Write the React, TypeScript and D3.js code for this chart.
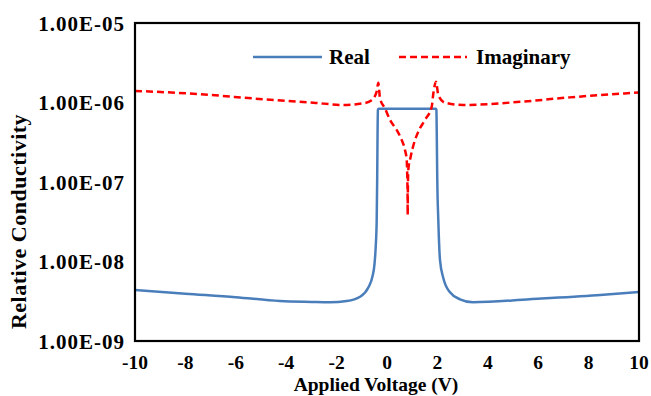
import React from 'react';
import * as d3 from 'd3';

// Real part: applied voltage (V) and relative conductivity
const realVoltage = [-10, -8, -6, -4.25, -3, -2.26, -1.6, -1.07, -0.742, -0.57, -0.5, -0.448, -0.409, -0.39, -0.375, -0.36, -0.33, 0.8, 1.94, 1.96, 1.975, 1.995, 2.036, 2.103, 2.234, 2.5, 2.9, 3.41, 5.67, 8.33, 10];
const realValue = [4.39e-9, 3.94e-9, 3.56e-9, 3.18e-9, 3.1e-9, 3.07e-9, 3.18e-9, 3.6e-9, 4.7e-9, 6.6e-9, 9.0e-9, 1.53e-8, 3.33e-8, 1.07e-7, 3.98e-7, 8.1e-7, 8.35e-7, 8.35e-7, 8.35e-7, 8.1e-7, 3.98e-7, 1.07e-7, 3.33e-8, 1.04e-8, 6.2e-9, 4.1e-9, 3.35e-9, 3.07e-9, 3.35e-9, 3.76e-9, 4.13e-9];

// Imaginary part
const imagVoltage = [-10, -7.55, -4.91, -2.92, -1.73, -0.94, -0.61, -0.41, -0.345, -0.278, -0.08, 0.119, 0.385, 0.583, 0.714, 0.782, 0.815, 0.821, 0.827, 0.845, 0.94, 1.071, 1.242, 1.508, 1.774, 1.84, 1.944, 2.036, 2.3, 3.03, 5.28, 7.26, 10];
const imagValue = [1.4e-6, 1.28e-6, 1.1e-6, 9.95e-7, 9.31e-7, 9.77e-7, 1.07e-6, 1.37e-6, 1.77e-6, 1.13e-6, 8.45e-7, 6.03e-7, 4.51e-7, 3.37e-7, 2.53e-7, 1.89e-7, 7.28e-8, 3.85e-8, 7.28e-8, 1.42e-7, 2.08e-7, 3.07e-7, 4.3e-7, 6.03e-7, 8.85e-7, 1.31e-6, 1.83e-6, 1.24e-6, 9.95e-7, 9.31e-7, 1.02e-6, 1.16e-6, 1.34e-6];

const xTicks = [-10, -8, -6, -4, -2, 0, 2, 4, 6, 8, 10];
const yTicks = [1e-9, 1e-8, 1e-7, 1e-6, 1e-5];
const yTickLabels = ['1.00E-09', '1.00E-08', '1.00E-07', '1.00E-06', '1.00E-05'];
const seriesNames = ['Real', 'Imaginary'];

const FONT = '"Liberation Serif", "Times New Roman", serif';
const BLUE = '#4a7ebb';
const RED = '#ff0000';

export default function App() {
  const W = 651, H = 396;
  const L = 135, R = 639, T = 23, B = 341;
  const x = d3.scaleLinear().domain([-10, 10]).range([L, R]);
  const y = d3.scaleLog().domain([1e-9, 1e-5]).range([B, T]);
  const line = d3.line<[number, number]>()
    .x(d => x(d[0]))
    .y(d => y(d[1]))
    .curve(d3.curveMonotoneX);
  const realPts = realVoltage.map((v, i) => [v, realValue[i]] as [number, number]);
  const imagPts = imagVoltage.map((v, i) => [v, imagValue[i]] as [number, number]);

  return (
    <div style={{ position: 'absolute', left: 0, top: 0 }}>
      <svg width={W} height={H} style={{ display: 'block', background: '#fff' }} fontFamily={FONT} fontWeight="bold">
        <defs>
          <clipPath id="plotClip">
            <rect x={L} y={T} width={R - L} height={B - T} />
          </clipPath>
        </defs>
        <rect x={0} y={0} width={W} height={H} fill="#fff" />
        <g clipPath="url(#plotClip)">
          <path d={line(realPts) || ''} fill="none" stroke={BLUE} strokeWidth={2.5} strokeLinejoin="round" />
          <path d={line(imagPts) || ''} fill="none" stroke={RED} strokeWidth={2.5} strokeDasharray="7 4" />
        </g>
        <rect x={L} y={T} width={R - L} height={B - T} fill="none" stroke="#000" strokeWidth={2.2} />
        {yTicks.map((t, i) => (
          <text key={t} x={125} y={y(t)} dy="0.36em" textAnchor="end" fontSize={21} letterSpacing={1}>{yTickLabels[i]}</text>
        ))}
        {xTicks.map(t => (
          <text key={t} x={x(t)} y={369} textAnchor="middle" fontSize={19.5}>{t}</text>
        ))}
        <text x={376} y={390.5} textAnchor="middle" fontSize={19.5}>Applied Voltage (V)</text>
        <text transform="translate(26,221.5) rotate(-90)" textAnchor="middle" fontSize={22} letterSpacing={0.5}>Relative Conductivity</text>
        <line x1={253} x2={322} y1={57} y2={57} stroke={BLUE} strokeWidth={2.5} />
        <text x={329} y={64} fontSize={21}>{seriesNames[0]}</text>
        <line x1={399} x2={467} y1={57} y2={57} stroke={RED} strokeWidth={2.5} strokeDasharray="7 4" />
        <text x={476} y={64} fontSize={21}>{seriesNames[1]}</text>
      </svg>
    </div>
  );
}
